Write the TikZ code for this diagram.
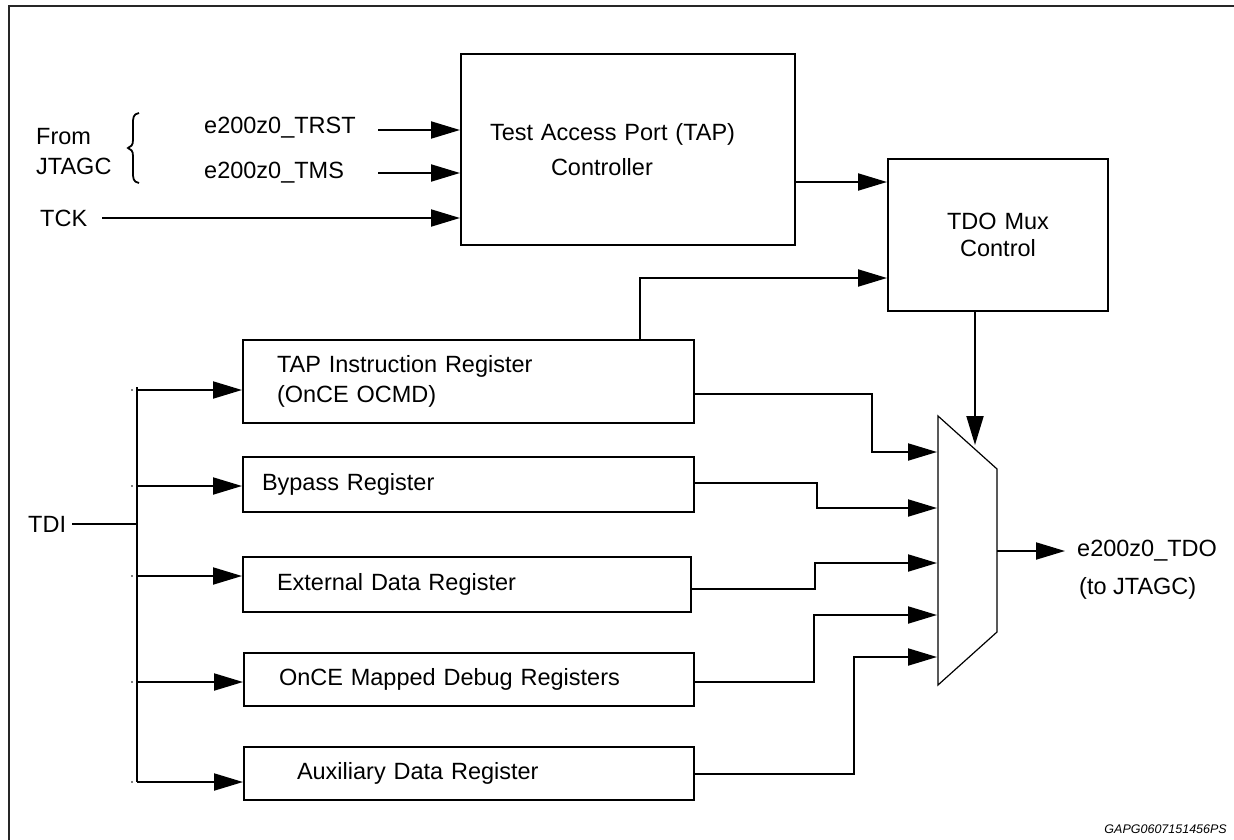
\documentclass[tikz,border=0pt]{standalone}
\usepackage{fontspec}
\setmainfont{Liberation Sans}
\usetikzlibrary{arrows.meta}
\begin{document}
\begin{tikzpicture}[x=1pt,y=-1pt,
  every node/.style={font=\fontsize{23.5}{30}\selectfont, inner sep=0pt},
  blk/.style={draw, line width=2pt},
  wire/.style={line width=2pt},
  arr/.style={line width=2pt, -{Triangle[length=29pt,width=17pt]}},
  lbl/.style={anchor=west}]
\useasboundingbox (0,0) rectangle (1234,840);
% frame
\draw[line width=1.6pt, black!85] (9,840) -- (9,6) -- (1234,6);

% blocks
\node[blk, minimum width=334pt, minimum height=191pt, inner xsep=29pt, text width=276pt, align=left,
      font=\fontsize{23.5}{35}\selectfont] (tap) at (628,149.5)
      {Test Access Port (TAP)\\\hspace*{61pt}Controller};
\node[blk, minimum width=220pt, minimum height=152pt, text width=200pt, align=center,
      font=\fontsize{23.5}{27}\selectfont] (tdo) at (998,235) {TDO Mux\\Control};
\node[blk, minimum width=451pt, minimum height=83pt, inner xsep=34pt, text width=383pt, align=left] (tir) at (468.5,381.5)
      {TAP Instruction Register\\(OnCE OCMD)};
\node[blk, minimum width=451pt, minimum height=55pt, inner xsep=19pt, text width=413pt, align=left] (byp) at (468.5,484.5)
      {Bypass Register};
\node[blk, minimum width=448pt, minimum height=55pt, inner xsep=34pt, text width=380pt, align=left] (ext) at (467,584.5)
      {External Data Register};
\node[blk, minimum width=450pt, minimum height=53pt, inner xsep=35pt, text width=380pt, align=left] (once) at (469,679.5)
      {OnCE Mapped Debug Registers};
\node[blk, minimum width=450pt, minimum height=53pt, inner xsep=53pt, text width=344pt, align=left] (aux) at (469,773.5)
      {Auxiliary Data Register};

% mux
\coordinate (mtl) at (938,416);
\coordinate (mtr) at (997,469);
\coordinate (mbr) at (997,632);
\coordinate (mbl) at (938,685);
\draw[line width=1.2pt] (mtl) -- (mtr) -- (mbr) -- (mbl) -- cycle;

% labels
\node[lbl, align=left, font=\fontsize{23.5}{30}\selectfont] (from) at (36,152) {From\\JTAGC};
\node[lbl] (trst) at (204,128) {e200z0\_TRST};
\node[lbl] (tms) at (204,173) {e200z0\_TMS};
\node[lbl] (tck) at (40,218) {TCK};
\node[lbl] (tdi) at (28,524) {TDI};
\node[lbl] (tdoout) at (1077,551) {e200z0\_TDO};
\node[lbl] (tojtag) at (1079,588) {(to JTAGC)};
\node[anchor=base east, font=\itshape\fontsize{12.5}{14}\selectfont] (code) at (1227,833) {GAPG0607151456PS};

% brace
\draw[line width=1.8pt] (139,113) .. controls (133,114) and (133,118) .. (133,124)
  -- (133,140) .. controls (133,145) and (131,147) .. (128,148)
  .. controls (131,149) and (133,151) .. (133,156)
  -- (133,172) .. controls (133,178) and (133,182) .. (139,183);

% top inputs
\coordinate (trstS) at (378,130);
\coordinate (tmsS) at (378,173);
\coordinate (tckS) at (102,218);
\draw[arr] (trstS) -- (trstS -| tap.west);
\draw[arr] (tmsS) -- (tmsS -| tap.west);
\draw[arr] (tckS) -- (tckS -| tap.west);

% TAP -> TDO mux control
\coordinate (tapo) at (795,182);
\draw[arr] (tapo) -- (tapo -| tdo.west);
% TAP instruction reg -> TDO mux control
\coordinate (c1) at (640,278);
\draw[arr] (c1 |- tir.north) -- (c1) -- (c1 -| tdo.west);
% TDO mux control -> mux
\coordinate (msel) at (975,445);
\draw[arr] (msel |- tdo.south) -- (msel);

% TDI bus
\coordinate (tdiS) at (72,524);
\coordinate (bt) at (137,387);
\coordinate (bb) at (137,782);
\draw[wire] (tdiS) -- (tdiS -| bt);
\draw[wire] (bt) -- (bb);
\coordinate (b1) at (137,390);
\coordinate (b2) at (137,486);
\coordinate (b3) at (137,576);
\coordinate (b4) at (137,682);
\coordinate (b5) at (137,782);
\draw[arr] (b1) -- (b1 -| tir.west);
\draw[arr] (b2) -- (b2 -| byp.west);
\draw[arr] (b3) -- (b3 -| ext.west);
\draw[arr] (b4) -- (b4 -| once.west);
\draw[arr] (b5) -- (b5 -| aux.west);
\foreach \yy in {390,486,524,576,682,782} \fill (132,\yy) circle (0.9pt);

% registers -> mux
\coordinate (i1) at (937,452);
\coordinate (i2) at (937,508);
\coordinate (i3) at (937,563);
\coordinate (i4) at (937,615);
\coordinate (i5) at (937,657);
\coordinate (k1) at (872,394);
\coordinate (k2) at (817,483);
\coordinate (k3) at (815,589);
\coordinate (k4) at (814,682);
\coordinate (k5) at (854,774);
\draw[arr] (k1 -| tir.east) -- (k1) -- (k1 |- i1) -- (i1);
\draw[arr] (k2 -| byp.east) -- (k2) -- (k2 |- i2) -- (i2);
\draw[arr] (k3 -| ext.east) -- (k3) -- (k3 |- i3) -- (i3);
\draw[arr] (k4 -| once.east) -- (k4) -- (k4 |- i4) -- (i4);
\draw[arr] (k5 -| aux.east) -- (k5) -- (k5 |- i5) -- (i5);

% mux output
\coordinate (mo) at (997,551);
\coordinate (moE) at (1065,551);
\draw[arr] (mo) -- (moE);
\end{tikzpicture}
\end{document}
